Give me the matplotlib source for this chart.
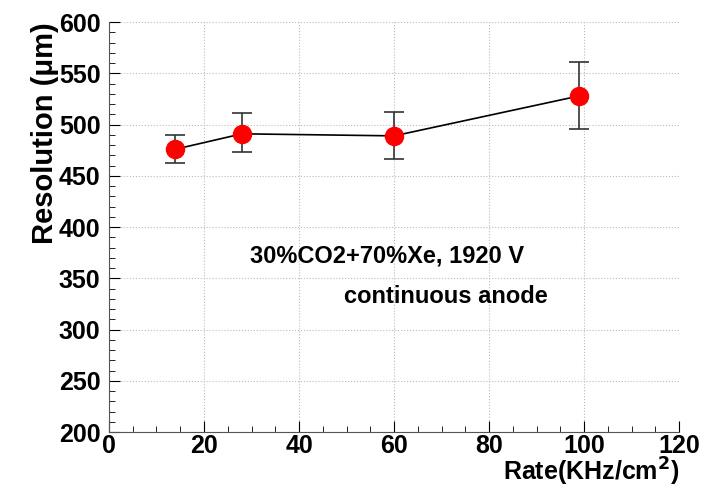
import numpy as np
import matplotlib.pyplot as plt
from matplotlib.ticker import MultipleLocator

# data
rate = [14, 28, 60, 99]
resolution = [476, 491, 489, 528]
err_low = [13, 18, 23, 32]
err_high = [14, 20, 23, 33]

plt.rcParams["font.family"] = ["Liberation Sans", "DejaVu Sans"]
plt.rcParams["font.weight"] = "bold"

fig = plt.figure(figsize=(7.12, 4.9), dpi=100)
ax = fig.add_axes([0.153, 0.118, 0.801, 0.837])

ax.plot(rate, resolution, color="black", linewidth=1.2, zorder=2)
ax.errorbar(rate, resolution, yerr=[err_low, err_high], fmt="o", markersize=13,
            color="red", ecolor="#333333", elinewidth=1.2, capsize=7, capthick=1.2, zorder=3)

ax.set_xlim(0, 120)
ax.set_ylim(200, 600)
ax.xaxis.set_major_locator(MultipleLocator(20))
ax.xaxis.set_minor_locator(MultipleLocator(5))
ax.yaxis.set_major_locator(MultipleLocator(50))
ax.yaxis.set_minor_locator(MultipleLocator(10))
ax.tick_params(which="both", direction="in", labelsize=18)
ax.tick_params(which="major", length=8)
ax.tick_params(which="minor", length=4)
ax.tick_params(axis="y", pad=6)
ax.tick_params(axis="x", pad=1)
for s in ["top", "right"]:
    ax.spines[s].set_visible(False)
ax.spines["left"].set_color("#555555")
ax.spines["bottom"].set_color("#555555")
ax.grid(True, which="major", linestyle=":", color="#bbbbbb", linewidth=0.8)

ax.set_ylabel("Resolution (\u03bcm)", fontsize=21, fontweight="bold", loc="top", labelpad=0)
ax.set_xlabel(r"Rate(KHz/cm$^2$)", fontsize=18, fontweight="bold", loc="right", labelpad=-1)

ax.text(29.7, 372, "30%CO2+70%Xe, 1920 V", fontsize=17, fontweight="bold", va="center")
ax.text(49.5, 332, "continuous anode", fontsize=17, fontweight="bold", va="center")

fig.savefig("out.png", dpi=100)
